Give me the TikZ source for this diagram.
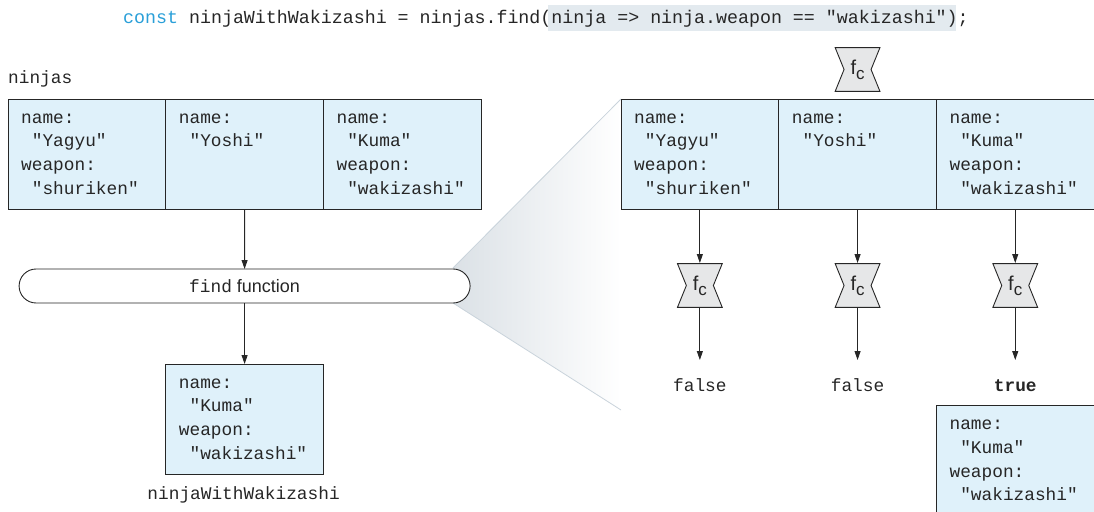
\documentclass[tikz,border=0pt]{standalone}
\usepackage{fontspec}
\setmainfont{Liberation Sans}
\setmonofont{Liberation Mono}
\usetikzlibrary{arrows.meta,positioning,calc}
\definecolor{Ink}{HTML}{262626}
\definecolor{CellBlue}{HTML}{DFF1FA}
\definecolor{FcGray}{HTML}{E6E7E8}
\definecolor{Mark}{HTML}{E3EAEF}
\definecolor{Keyword}{HTML}{2A9FD8}
\definecolor{Zoom}{HTML}{DBE1E6}
\definecolor{ZoomEdge}{HTML}{C9D3DB}

\newcommand{\monosize}{\fontsize{17.8}{23.7}\selectfont\ttfamily}
\newcommand{\fcname}{f\raisebox{-0.45ex}{\fontsize{17}{17}\selectfont c}}

\tikzset{
  cell/.style={draw=Ink, fill=CellBlue, line width=0.9pt, minimum width=157.7pt,
    minimum height=110pt, inner sep=0pt, outer sep=0pt},
  celltext/.style={anchor=north west, align=left, inner sep=0pt, font=\monosize, text=Ink},
  outtext/.style={inner sep=0pt, font=\monosize, text=Ink, text height=12pt, text depth=4pt},
  fc/.style={minimum width=46pt, minimum height=45pt, inner sep=0pt, outer sep=0pt,
    font=\fontsize{20}{20}\selectfont, text=Ink,
    path picture={
      \filldraw[fill=FcGray, draw=Ink, line width=0.9pt]
        ($(path picture bounding box.north west)+(0.6pt,-0.6pt)$) --
        ($(path picture bounding box.north east)+(-0.6pt,-0.6pt)$) --
        ($(path picture bounding box.east)+(-9.5pt,0pt)$) --
        ($(path picture bounding box.south east)+(-0.6pt,0.6pt)$) --
        ($(path picture bounding box.south west)+(0.6pt,0.6pt)$) --
        ($(path picture bounding box.west)+(9.5pt,0pt)$) -- cycle;
    }},
  flow/.style={draw=Ink, line width=0.9pt, -{Stealth[length=9pt,width=6pt,inset=0pt]}},
}

\begin{document}
\begin{tikzpicture}[x=1pt,y=-1pt]
  \useasboundingbox (0,0) rectangle (1094,511);

  % code line on top
  \fill[Mark] (548,5) rectangle (956,31);
  \node[anchor=base west, inner sep=0pt, font=\fontsize{18.3}{22}\selectfont\ttfamily, text=Ink] (code) at (123,24)
    {\textcolor{Keyword}{const} ninjaWithWakizashi = ninjas.find(ninja => ninja.weapon == "wakizashi");};

  % left side: array, find function, result
  \node[anchor=base west, inner sep=0pt, font=\monosize, text=Ink] (ninjas) at (8,83) {ninjas};
  \node[cell, anchor=north west] (yagyu) at (8,99) {};
  \node[cell, right=0pt of yagyu] (yoshi) {};
  \node[cell, right=0pt of yoshi] (kuma) {};
  \node[celltext] at ($(yagyu.north west)+(13pt,-7.5pt)$) {\strut name:\\~"Yagyu"\\weapon:\\~"shuriken"};
  \node[celltext] at ($(yoshi.north west)+(13pt,-7.5pt)$) {\strut name:\\~"Yoshi"};
  \node[celltext] at ($(kuma.north west)+(13pt,-7.5pt)$) {\strut name:\\~"Kuma"\\weapon:\\~"wakizashi"};

  % zoom wedge
  \shade[left color=Zoom, right color=white] (453,268) -- (621,99) -- (621,410) -- (453,303) -- cycle;
  \draw[ZoomEdge, line width=0.8pt] (453,268) -- (621,99);
  \draw[ZoomEdge, line width=0.8pt] (453,303) -- (621,410);

  \node[draw=Ink, fill=white, line width=0.9pt, rounded corners=17pt, minimum width=451pt,
    minimum height=34pt, inner sep=0pt, outer sep=0pt, text=Ink, font=\fontsize{18}{18}\selectfont]
    (find) at (244.6,286) {{\monosize find} function};
  \node[cell, below=61pt of find] (result) {};
  \node[celltext] at ($(result.north west)+(13pt,-7.5pt)$) {\strut name:\\~"Kuma"\\weapon:\\~"wakizashi"};
  \node[anchor=base, inner sep=0pt, font=\monosize, text=Ink] (resultname) at ($(result.south)+(-1pt,-25pt)$) {ninjaWithWakizashi};

  \draw[flow] (yoshi) -- (find);
  \draw[flow] (find) -- (result);

  % right side: the callback on each item
  \node[cell, anchor=north west] (yagyuR) at (621,99) {};
  \node[cell, right=0pt of yagyuR] (yoshiR) {};
  \node[cell, right=0pt of yoshiR] (kumaR) {};
  \node[celltext] at ($(yagyuR.north west)+(13pt,-7.5pt)$) {\strut name:\\~"Yagyu"\\weapon:\\~"shuriken"};
  \node[celltext] at ($(yoshiR.north west)+(13pt,-7.5pt)$) {\strut name:\\~"Yoshi"};
  \node[celltext] at ($(kumaR.north west)+(13pt,-7.5pt)$) {\strut name:\\~"Kuma"\\weapon:\\~"wakizashi"};
  \node[fc, above=7pt of yoshiR] (fctop) {\fcname};

  \node[fc, below=54pt of yagyuR] (fc1) {\fcname};
  \node[fc, below=54pt of yoshiR] (fc2) {\fcname};
  \node[fc, below=54pt of kumaR] (fc3) {\fcname};
  \node[outtext, below=71pt of fc1] (out1) {false};
  \node[outtext, below=71pt of fc2] (out2) {false};
  \node[outtext, below=71pt of fc3] (out3) {\textbf{true}};
  \node[cell, below=10pt of out3] (resultR) {};
  \node[celltext] at ($(resultR.north west)+(13pt,-7.5pt)$) {\strut name:\\~"Kuma"\\weapon:\\~"wakizashi"};

  \draw[flow] (yagyuR) -- (fc1);
  \draw[flow] (yoshiR) -- (fc2);
  \draw[flow] (kumaR) -- (fc3);
  \draw[flow, shorten >=19pt] (fc1) -- (out1);
  \draw[flow, shorten >=19pt] (fc2) -- (out2);
  \draw[flow, shorten >=19pt] (fc3) -- (out3);
\end{tikzpicture}
\end{document}
